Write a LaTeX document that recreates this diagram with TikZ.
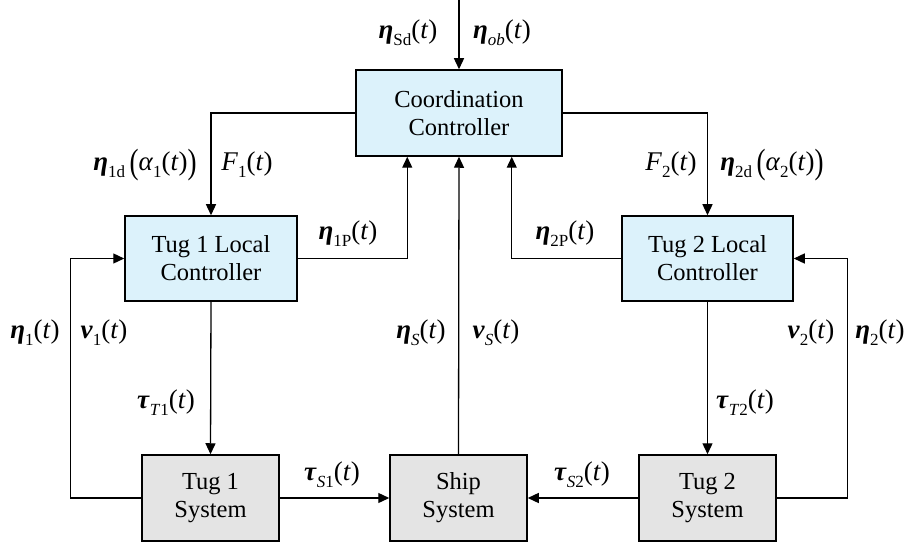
\documentclass[tikz,border=0pt]{standalone}
\usepackage{fontspec}
\setmainfont{Liberation Serif}
\usepackage{graphicx}
\usetikzlibrary{arrows.meta,calc}
\definecolor{ctrlfill}{RGB}{220,242,251}
\definecolor{sysfill}{RGB}{228,228,228}
\newcommand{\bEta}{\textbf{\textit{η}}}
\newcommand{\bTau}{\textbf{\textit{τ}}}
\newcommand{\bVee}{\textbf{\textit{v}}}
\newcommand{\sbs}[1]{\raisebox{-0.26em}{\fontsize{17}{17}\selectfont #1}}
\newcommand{\argt}{(\textit{t})}
\newcommand{\lbig}{\raisebox{-0.12em}{\scalebox{1}[1.3]{(}}}
\newcommand{\rbig}{\raisebox{-0.12em}{\scalebox{1}[1.3]{)}}}
\begin{document}
\begin{tikzpicture}[x=1pt,y=-1pt,
  every node/.style={font=\fontsize{24.5}{28}\selectfont},
  ctrlbox/.style={draw,line width=1.5pt,fill=ctrlfill,align=center,inner sep=0pt},
  sysbox/.style={draw,line width=1.5pt,fill=sysfill,align=center,inner sep=0pt},
  conn/.style={line width=1.3pt,-{Triangle[length=11pt,width=10pt]}},
  lbl/.style={inner sep=0pt,font=\fontsize{27}{30}\selectfont}]
\useasboundingbox (0,0) rectangle (910,548);
\node[ctrlbox,minimum width=206pt,minimum height=86pt] (cc) at (459,113) {Coordination\\Controller};
\node[ctrlbox,minimum width=172pt,minimum height=85pt] (t1lc) at (211,258.5) {Tug 1 Local\\Controller};
\node[ctrlbox,minimum width=171pt,minimum height=85pt] (t2lc) at (707.5,258.5) {Tug 2 Local\\Controller};
\node[sysbox,minimum width=137pt,minimum height=86pt] (t1s) at (210.5,498) {Tug 1\\System};
\node[sysbox,minimum width=137pt,minimum height=86pt] (ss) at (458.5,498) {Ship\\System};
\node[sysbox,minimum width=137pt,minimum height=86pt] (t2s) at (707.5,498) {Tug 2\\System};
\coordinate (in) at (459,0);
% connectors
\draw[conn] (in) -- (cc.north);
\draw[conn] (cc.west) -| (t1lc.north);
\draw[conn] (cc.east) -| (t2lc.north);
\draw[conn] (t1lc.east) -| ([xshift=52pt]cc.south west);
\draw[conn] (t2lc.west) -| ([xshift=-51pt]cc.south east);
\draw[conn] (t1lc.south) -- (t1s.north);
\draw[conn] (t2lc.south) -- (t2s.north);
\draw[conn] (ss.north) -- (cc.south);
\draw[conn] (t1s.east) -- (ss.west);
\draw[conn] (t2s.west) -- (ss.east);
\draw[conn] (t1s.west) -- ++(-71,0) |- (t1lc.west);
\draw[conn] (t2s.east) -- ++(71,0) |- (t2lc.east);
% labels
\node[lbl] (lsd) at (408,33) {\bEta\sbs{Sd}\argt};
\node[lbl] (lob) at (502,33) {\bEta\sbs{\textit{ob}}\argt};
\node[lbl] (l1d) at (145,165) {\bEta\sbs{1d}\,\lbig\textit{α}\sbs{1}\argt\rbig};
\node[lbl] (lf1) at (247,165) {\textit{F}\sbs{1}\argt};
\node[lbl] (lf2) at (671,165) {\textit{F}\sbs{2}\argt};
\node[lbl] (l2d) at (772,165) {\bEta\sbs{2d}\,\lbig\textit{α}\sbs{2}\argt\rbig};
\node[lbl] (l1p) at (348,234) {\bEta\sbs{1P}\argt};
\node[lbl] (l2p) at (565,234) {\bEta\sbs{2P}\argt};
\node[lbl] (le1) at (35,333) {\bEta\sbs{1}\argt};
\node[lbl] (lv1) at (104,333) {\bVee\sbs{1}\argt};
\node[lbl] (les) at (421,333) {\bEta\sbs{\textit{S}}\argt};
\node[lbl] (lvs) at (496,333) {\bVee\sbs{\textit{S}}\argt};
\node[lbl] (lv2) at (811,333) {\bVee\sbs{2}\argt};
\node[lbl] (le2) at (880,333) {\bEta\sbs{2}\argt};
\node[lbl] (lt1) at (166,403) {\bTau\sbs{\textit{T}1}\argt};
\node[lbl] (lt2) at (745,403) {\bTau\sbs{\textit{T}2}\argt};
\node[lbl] (ls1) at (332,475) {\bTau\sbs{\textit{S}1}\argt};
\node[lbl] (ls2) at (582,475) {\bTau\sbs{\textit{S}2}\argt};
\end{tikzpicture}
\end{document}
